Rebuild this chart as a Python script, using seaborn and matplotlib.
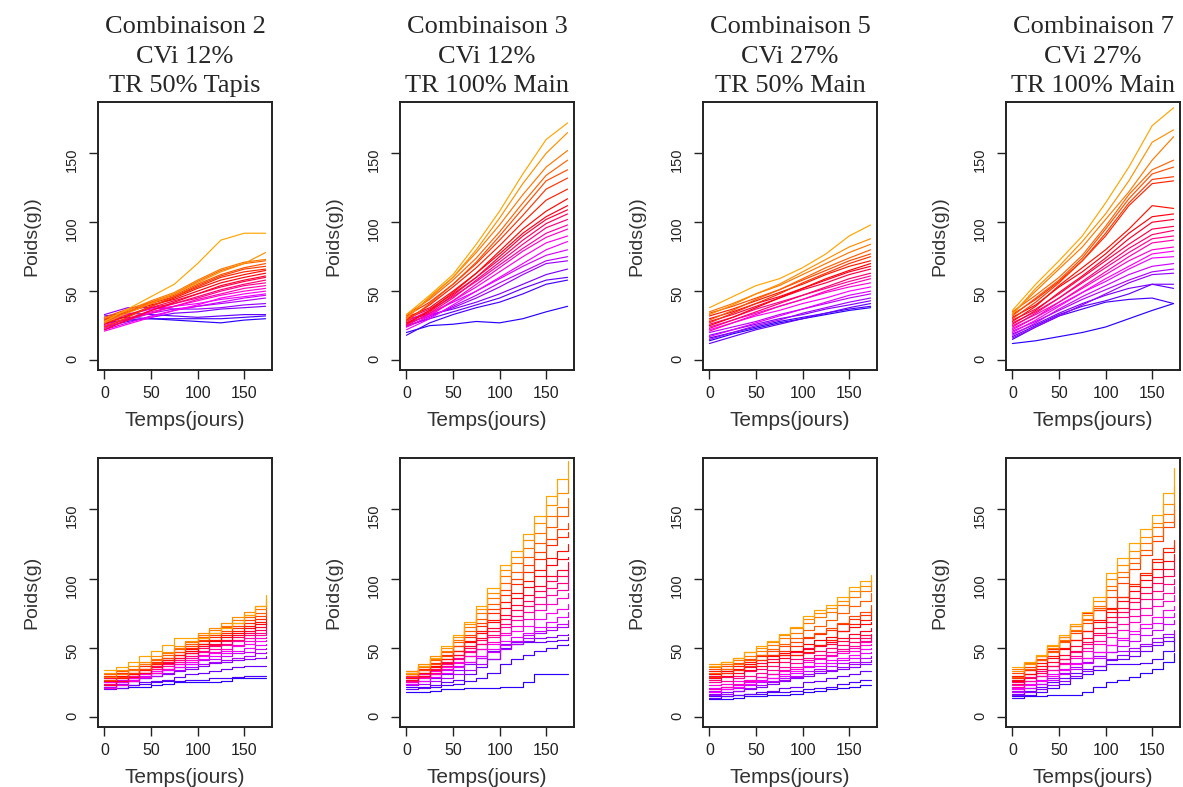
import pandas as pd
import matplotlib.pyplot as plt
import seaborn as sns
from matplotlib.colors import LinearSegmentedColormap

# time grids (days)
T_TOP = [0, 25, 50, 75, 100, 125, 150, 173]
T_BOT = [0, 12, 25, 37, 50, 62, 75, 87, 100, 112, 125, 137, 150, 162, 173]

TITLES = ["Combinaison 2\nCVi 12%\nTR 50% Tapis",
          "Combinaison 3\nCVi 12%\nTR 100% Main",
          "Combinaison 5\nCVi 27%\nTR 50% Main",
          "Combinaison 7\nCVi 27%\nTR 100% Main"]
YLABEL_TOP = "Poids(g))"
YLABEL_BOT = "Poids(g)"
XLABEL = "Temps(jours)"
TICKS = [0, 50, 100, 150]

# weights (g), one row per fish, sorted by final weight
COMB2_TOP = [
    [30, 31, 30, 29, 28, 27, 29, 30],
    [27, 29, 30, 30, 30, 30, 31, 32],
    [32, 34, 33, 32, 31, 32, 33, 33],
    [24, 28, 31, 34, 35, 37, 38, 39],
    [33, 38, 38, 37, 37, 38, 40, 41],
    [26, 30, 34, 37, 39, 41, 43, 45],
    [22, 27, 32, 36, 39, 42, 45, 47],
    [29, 33, 37, 39, 41, 44, 46, 48],
    [21, 26, 31, 36, 40, 45, 48, 50],
    [25, 30, 35, 39, 43, 47, 50, 52],
    [23, 29, 34, 39, 44, 48, 52, 54],
    [28, 33, 38, 41, 45, 50, 54, 56],
    [24, 30, 36, 41, 46, 51, 55, 58],
    [27, 32, 38, 43, 48, 53, 57, 60],
    [22, 29, 36, 42, 48, 54, 58, 61],
    [30, 35, 40, 44, 50, 56, 60, 63],
    [26, 32, 39, 45, 52, 58, 62, 65],
    [29, 35, 41, 46, 53, 60, 64, 66],
    [24, 31, 39, 46, 54, 61, 66, 68],
    [31, 37, 42, 47, 55, 62, 67, 70],
    [28, 35, 42, 48, 57, 65, 70, 72],
    [30, 36, 43, 49, 58, 66, 71, 73],
    [27, 34, 41, 48, 56, 64, 70, 78],
    [28, 37, 46, 55, 70, 87, 92, 92],
]
COMB3_TOP = [
    [20, 25, 26, 28, 27, 30, 35, 39],
    [18, 27, 33, 38, 42, 48, 55, 58],
    [25, 30, 35, 40, 45, 52, 58, 60],
    [30, 33, 37, 42, 48, 55, 62, 66],
    [27, 32, 38, 45, 53, 62, 70, 72],
    [24, 31, 39, 47, 56, 64, 72, 75],
    [29, 34, 42, 50, 59, 68, 76, 80],
    [22, 30, 40, 50, 60, 70, 80, 86],
    [26, 33, 43, 53, 64, 75, 85, 90],
    [24, 32, 43, 55, 67, 79, 89, 95],
    [28, 36, 46, 57, 69, 81, 92, 98],
    [25, 34, 45, 58, 71, 84, 96, 102],
    [30, 37, 48, 60, 73, 87, 99, 106],
    [27, 35, 47, 60, 75, 90, 102, 109],
    [31, 38, 50, 63, 77, 92, 104, 112],
    [26, 36, 49, 63, 79, 95, 108, 117],
    [29, 40, 53, 67, 83, 100, 116, 124],
    [32, 42, 55, 70, 87, 105, 124, 132],
    [28, 41, 55, 71, 90, 110, 130, 138],
    [33, 44, 58, 74, 93, 114, 134, 145],
    [31, 45, 60, 78, 98, 120, 140, 152],
    [30, 46, 60, 80, 103, 128, 150, 165],
    [33, 47, 62, 84, 108, 135, 160, 172],
]
COMB5_TOP = [
    [14, 19, 23, 27, 30, 33, 36, 38],
    [16, 20, 24, 28, 31, 34, 37, 39],
    [12, 17, 22, 26, 30, 34, 38, 41],
    [18, 22, 26, 30, 33, 37, 40, 43],
    [15, 20, 25, 29, 34, 38, 42, 45],
    [20, 24, 28, 33, 37, 41, 45, 48],
    [17, 22, 27, 32, 37, 42, 47, 50],
    [22, 27, 32, 36, 41, 45, 50, 53],
    [24, 29, 34, 39, 44, 49, 53, 56],
    [21, 27, 33, 39, 44, 50, 55, 59],
    [26, 31, 37, 42, 47, 52, 57, 61],
    [23, 29, 35, 41, 47, 53, 59, 63],
    [28, 33, 39, 45, 51, 56, 62, 66],
    [30, 35, 41, 46, 52, 58, 64, 68],
    [25, 31, 38, 45, 52, 59, 65, 70],
    [32, 37, 43, 49, 55, 62, 68, 72],
    [27, 34, 41, 48, 56, 63, 70, 75],
    [34, 39, 45, 51, 58, 65, 72, 77],
    [29, 36, 44, 51, 59, 67, 74, 80],
    [35, 41, 48, 54, 62, 70, 78, 84],
    [33, 40, 48, 55, 64, 73, 82, 88],
    [38, 46, 54, 59, 67, 77, 90, 98],
]
COMB7_TOP = [
    [12, 14, 17, 20, 24, 30, 36, 41],
    [15, 24, 32, 37, 42, 44, 45, 41],
    [17, 25, 33, 39, 43, 48, 55, 52],
    [19, 26, 34, 41, 47, 52, 55, 55],
    [16, 24, 32, 40, 48, 56, 62, 63],
    [21, 28, 36, 44, 51, 58, 64, 66],
    [18, 27, 37, 46, 54, 62, 68, 70],
    [23, 31, 40, 49, 57, 66, 74, 75],
    [20, 29, 39, 49, 59, 68, 77, 79],
    [25, 33, 42, 52, 62, 72, 80, 82],
    [22, 31, 42, 53, 64, 75, 85, 87],
    [27, 35, 45, 56, 67, 78, 88, 90],
    [24, 34, 45, 57, 69, 81, 91, 94],
    [29, 37, 48, 60, 72, 84, 95, 97],
    [26, 36, 49, 61, 74, 88, 100, 102],
    [31, 40, 53, 64, 77, 92, 104, 106],
    [28, 39, 54, 67, 80, 95, 112, 110],
    [33, 44, 57, 72, 90, 112, 128, 130],
    [30, 42, 56, 72, 92, 114, 131, 133],
    [32, 45, 58, 74, 95, 117, 135, 140],
    [35, 47, 60, 76, 97, 120, 138, 145],
    [34, 50, 66, 82, 102, 122, 145, 162],
    [33, 52, 68, 86, 106, 130, 158, 167],
    [36, 55, 72, 90, 114, 140, 170, 183],
]
COMB2_BOT = [
    [21, 21, 22, 22, 23, 24, 25, 25, 25, 25, 26, 28, 28, 28, 28],
    [22, 23, 23, 24, 25, 26, 26, 27, 27, 28, 28, 29, 30, 30, 30],
    [20, 21, 23, 25, 26, 27, 29, 31, 32, 33, 35, 36, 37, 37, 37],
    [24, 25, 26, 28, 30, 31, 33, 35, 37, 39, 40, 41, 42, 43, 44],
    [22, 24, 26, 28, 30, 32, 34, 36, 38, 40, 41, 43, 44, 46, 47],
    [26, 27, 28, 30, 32, 34, 36, 38, 41, 42, 44, 46, 47, 49, 50],
    [23, 25, 27, 29, 32, 34, 36, 38, 42, 44, 46, 48, 50, 52, 53],
    [25, 26, 28, 31, 33, 35, 38, 40, 44, 46, 48, 51, 53, 55, 56],
    [21, 23, 26, 29, 32, 35, 38, 41, 45, 47, 49, 52, 55, 57, 58],
    [27, 28, 30, 32, 35, 37, 40, 43, 47, 49, 52, 55, 57, 59, 61],
    [24, 26, 29, 32, 35, 38, 41, 44, 48, 51, 53, 56, 59, 61, 63],
    [28, 29, 31, 34, 37, 40, 43, 46, 50, 52, 55, 58, 61, 63, 65],
    [23, 26, 29, 32, 36, 39, 43, 46, 51, 53, 56, 59, 62, 65, 67],
    [29, 30, 32, 35, 38, 41, 45, 48, 53, 55, 58, 61, 64, 67, 69],
    [26, 28, 31, 34, 38, 41, 45, 49, 53, 56, 59, 62, 66, 69, 71],
    [30, 32, 34, 37, 40, 43, 47, 50, 55, 58, 61, 64, 68, 71, 73],
    [27, 29, 32, 35, 39, 43, 47, 51, 56, 59, 62, 66, 70, 73, 76],
    [31, 33, 35, 38, 41, 45, 49, 53, 58, 61, 65, 68, 72, 75, 79],
    [29, 31, 34, 38, 42, 46, 50, 54, 59, 63, 66, 70, 74, 78, 82],
    [32, 34, 37, 40, 44, 47, 51, 55, 61, 64, 68, 72, 76, 80, 85],
    [34, 36, 40, 44, 48, 52, 57, 57, 57, 61, 64, 68, 74, 80, 88],
]
COMB3_BOT = [
    [18, 18, 19, 20, 20, 21, 21, 21, 22, 22, 25, 31, 31, 31, 31],
    [22, 22, 22, 23, 24, 26, 28, 32, 38, 42, 45, 48, 50, 52, 53],
    [20, 21, 23, 25, 27, 31, 36, 42, 50, 53, 54, 54, 55, 56, 58],
    [25, 26, 28, 31, 34, 38, 43, 48, 53, 54, 55, 57, 58, 59, 60],
    [23, 24, 26, 28, 31, 34, 38, 42, 49, 53, 57, 61, 63, 65, 67],
    [27, 29, 31, 34, 37, 40, 43, 47, 52, 55, 59, 62, 65, 67, 70],
    [24, 26, 29, 32, 36, 40, 44, 49, 55, 58, 61, 65, 69, 72, 76],
    [28, 30, 33, 36, 40, 44, 49, 53, 59, 62, 66, 71, 75, 78, 82],
    [25, 28, 31, 35, 39, 44, 49, 54, 61, 66, 71, 77, 82, 86, 90],
    [29, 31, 34, 38, 43, 48, 53, 58, 65, 70, 76, 82, 88, 92, 96],
    [26, 29, 32, 37, 42, 47, 53, 59, 67, 73, 80, 87, 93, 97, 102],
    [30, 32, 35, 40, 45, 50, 56, 62, 71, 77, 84, 91, 98, 102, 107],
    [27, 30, 34, 39, 45, 51, 57, 64, 74, 81, 88, 95, 102, 106, 112],
    [31, 34, 37, 42, 48, 54, 61, 69, 79, 86, 94, 102, 110, 114, 116],
    [28, 32, 36, 42, 48, 55, 62, 70, 83, 90, 98, 106, 115, 120, 125],
    [32, 35, 39, 45, 51, 58, 66, 75, 88, 96, 105, 114, 124, 130, 134],
    [30, 34, 38, 44, 51, 59, 68, 78, 92, 100, 110, 119, 129, 136, 140],
    [33, 37, 41, 47, 54, 62, 71, 82, 97, 105, 116, 126, 137, 145, 152],
    [31, 36, 42, 48, 56, 65, 75, 86, 102, 111, 122, 133, 145, 152, 158],
    [33, 38, 44, 50, 58, 67, 78, 90, 106, 116, 128, 140, 153, 162, 172],
    [32, 37, 43, 51, 59, 69, 80, 93, 110, 120, 132, 145, 160, 172, 185],
]
COMB5_BOT = [
    [13, 13, 14, 15, 15, 16, 16, 17, 18, 19, 20, 21, 22, 23, 23],
    [15, 15, 16, 17, 17, 18, 18, 19, 20, 21, 22, 24, 25, 27, 27],
    [14, 15, 16, 17, 18, 19, 21, 22, 25, 26, 28, 30, 31, 33, 33],
    [17, 18, 19, 20, 22, 24, 26, 28, 30, 32, 33, 35, 36, 38, 38],
    [16, 17, 19, 21, 23, 25, 27, 29, 31, 33, 34, 36, 38, 40, 41],
    [19, 20, 21, 23, 25, 26, 28, 30, 33, 35, 37, 39, 40, 43, 44],
    [21, 22, 23, 25, 27, 28, 30, 32, 36, 37, 39, 41, 43, 46, 47],
    [18, 20, 22, 24, 26, 28, 31, 33, 37, 39, 41, 43, 45, 49, 50],
    [23, 24, 26, 27, 29, 31, 33, 35, 40, 42, 44, 46, 48, 52, 53],
    [20, 22, 24, 26, 29, 31, 34, 36, 41, 43, 45, 48, 50, 54, 55],
    [25, 26, 28, 30, 32, 34, 36, 39, 43, 45, 47, 49, 51, 55, 57],
    [27, 29, 30, 33, 35, 37, 40, 42, 46, 48, 50, 52, 54, 57, 59],
    [30, 32, 34, 36, 39, 42, 45, 47, 50, 51, 53, 55, 57, 59, 60],
    [28, 30, 32, 34, 37, 40, 43, 45, 49, 52, 54, 57, 60, 62, 64],
    [31, 33, 35, 38, 41, 44, 46, 48, 53, 56, 58, 62, 65, 67, 69],
    [33, 35, 37, 40, 44, 45, 45, 45, 47, 52, 56, 62, 67, 70, 73],
    [29, 32, 34, 37, 41, 45, 48, 51, 57, 60, 63, 67, 71, 74, 78],
    [35, 37, 39, 42, 45, 48, 51, 54, 58, 61, 64, 68, 73, 76, 81],
    [32, 35, 38, 41, 45, 49, 53, 57, 63, 66, 70, 75, 80, 84, 90],
    [36, 38, 41, 44, 48, 52, 57, 61, 68, 72, 76, 81, 87, 91, 96],
    [38, 40, 43, 47, 50, 54, 59, 64, 71, 75, 79, 84, 91, 95, 100],
    [37, 40, 43, 47, 51, 55, 60, 65, 73, 77, 81, 87, 94, 98, 103],
]
COMB7_BOT = [
    [15, 15, 15, 16, 16, 16, 18, 22, 25, 27, 29, 32, 35, 40, 46],
    [14, 16, 18, 21, 24, 28, 31, 34, 38, 38, 38, 39, 42, 48, 57],
    [17, 19, 22, 25, 28, 32, 35, 37, 41, 42, 44, 48, 52, 55, 57],
    [16, 18, 20, 23, 26, 30, 33, 37, 42, 45, 48, 51, 54, 58, 60],
    [19, 21, 24, 28, 32, 36, 40, 44, 47, 48, 50, 53, 57, 60, 63],
    [18, 21, 24, 27, 31, 35, 39, 43, 47, 51, 55, 59, 63, 67, 70],
    [21, 24, 27, 31, 35, 39, 43, 47, 52, 56, 60, 64, 68, 72, 75],
    [20, 23, 26, 30, 34, 38, 43, 47, 52, 57, 62, 67, 72, 77, 80],
    [23, 26, 30, 34, 38, 43, 48, 53, 58, 63, 69, 74, 80, 84, 88],
    [22, 26, 30, 34, 39, 44, 50, 55, 61, 67, 73, 79, 85, 90, 95],
    [25, 29, 33, 37, 42, 47, 53, 59, 65, 72, 78, 85, 91, 96, 100],
    [24, 28, 32, 37, 42, 48, 54, 61, 69, 76, 83, 90, 97, 102, 106],
    [27, 31, 35, 40, 45, 51, 57, 64, 72, 79, 86, 94, 101, 107, 112],
    [26, 31, 37, 43, 49, 56, 62, 69, 76, 84, 91, 99, 107, 113, 118],
    [30, 34, 39, 44, 50, 56, 62, 70, 79, 87, 95, 103, 112, 119, 124],
    [28, 34, 41, 49, 58, 66, 75, 77, 78, 87, 96, 104, 114, 122, 128],
    [32, 36, 42, 48, 55, 61, 68, 77, 87, 97, 107, 117, 127, 137, 145],
    [29, 35, 41, 47, 54, 62, 70, 79, 92, 101, 111, 121, 131, 141, 150],
    [35, 39, 44, 50, 56, 63, 71, 80, 95, 105, 115, 126, 137, 147, 155],
    [33, 38, 44, 51, 58, 66, 74, 84, 100, 110, 120, 130, 140, 154, 167],
    [36, 40, 45, 52, 59, 67, 76, 87, 104, 115, 126, 136, 146, 162, 180],
]

TOP = [COMB2_TOP, COMB3_TOP, COMB5_TOP, COMB7_TOP]
BOT = [COMB2_BOT, COMB3_BOT, COMB5_BOT, COMB7_BOT]

RAMP = LinearSegmentedColormap.from_list("ramp", ["#2a00ff", "#ff00ff", "#ff0000", "#ffa500"])


def to_long(times, curves):
    rows = []
    for i, w in enumerate(curves):
        for t, v in zip(times, w):
            rows.append((i, t, v))
    return pd.DataFrame(rows, columns=["fish", "t", "w"])


def draw_panel(ax, times, curves, ylabel, steps=False, title=None):
    df = to_long(times, curves)
    n = len(curves)
    colors = [RAMP(k / (n - 1)) for k in range(n)]
    sns.lineplot(data=df, x="t", y="w", hue="fish", palette=colors, estimator=None,
                 legend=False, lw=0.85, ax=ax, drawstyle="steps-post" if steps else "default")
    ax.set_xlim(-6.9, 179.9)
    ax.set_ylim(-7.2, 187.2)
    ax.set_xticks(TICKS)
    ax.set_yticks(TICKS)
    ax.tick_params(axis="y", labelrotation=90, labelsize=10.5)
    ax.set_xlabel(XLABEL, fontsize=15, color="#333333", labelpad=7)
    ax.set_ylabel(ylabel, fontsize=14, color="#333333", labelpad=18)
    for s in ax.spines.values():
        s.set_visible(True)
        s.set_linewidth(1.4)
        s.set_color("#222222")
    if title:
        ax.set_title(title, fontsize=19, family="Liberation Serif", linespacing=1.45, pad=7)


def main():
    sns.set_theme(style="ticks")
    plt.rcParams["font.family"] = ["Liberation Sans", "DejaVu Sans"]
    plt.rcParams.update({
        "xtick.direction": "out", "ytick.direction": "out",
        "xtick.major.size": 6.5, "ytick.major.size": 6.5,
        "xtick.major.width": 1.0, "ytick.major.width": 1.0,
        "xtick.major.pad": 5, "ytick.major.pad": 7,
        "xtick.labelsize": 11.5, "ytick.labelsize": 10.5,
        "xtick.color": "#222222", "ytick.color": "#222222",
    })

    W, H = 1183, 787
    fig = plt.figure(figsize=(W / 100, H / 100), dpi=100)
    lefts = [98, 400, 703, 1006]
    for c in range(4):
        ax_top = fig.add_axes([lefts[c] / W, 1 - 370 / H, 174 / W, 268 / H])
        draw_panel(ax_top, T_TOP, TOP[c], YLABEL_TOP, steps=False, title=TITLES[c])
        ax_bot = fig.add_axes([lefts[c] / W, 1 - 727 / H, 174 / W, 269 / H])
        draw_panel(ax_bot, T_BOT, BOT[c], YLABEL_BOT, steps=True)

    fig.savefig("out.png", dpi=100)


if __name__ == "__main__":
    main()
